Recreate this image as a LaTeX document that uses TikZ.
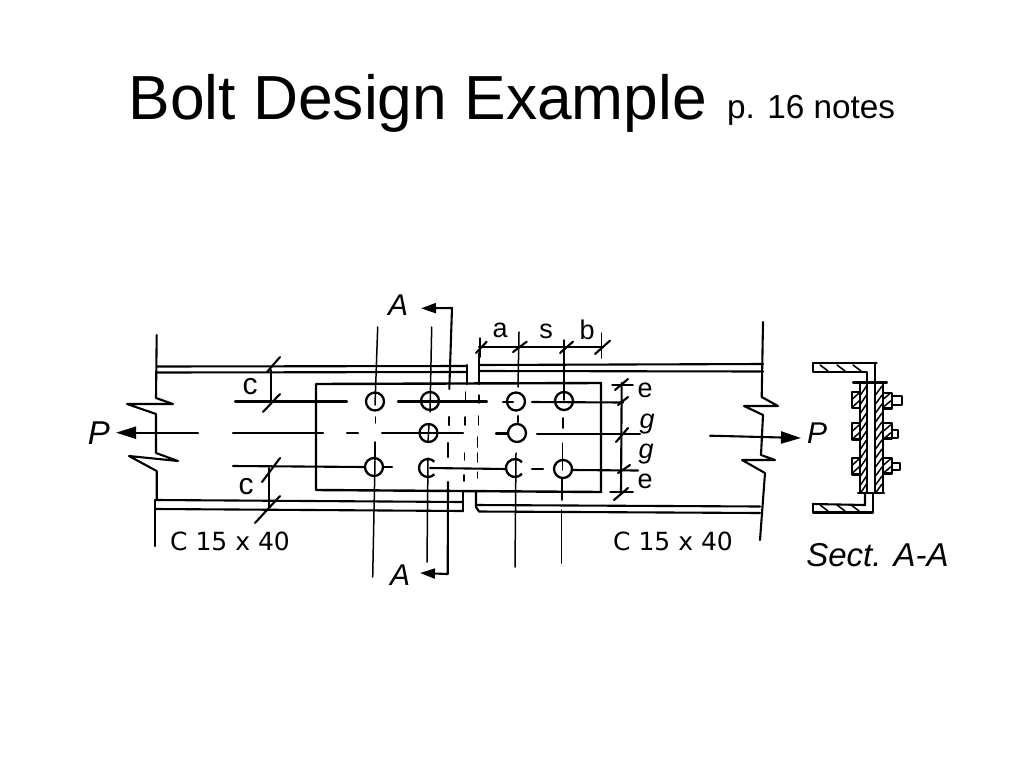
\documentclass[tikz,border=0pt]{standalone}
\usepackage{fontspec}
\setmainfont{Liberation Sans}
\newfontfamily\plainhand{DejaVu Sans}
\usetikzlibrary{arrows.meta}
\tikzset{
  ink/.style={line width=2.1pt,black,line cap=round,line join=round},
  thin ink/.style={line width=1.5pt,black,line cap=round,line join=round},
  bolt/.style={line width=2.3pt,black},
  hand/.style={font=\fontsize{30}{30}\selectfont\itshape,inner sep=0pt},
  small hand/.style={font=\fontsize{27}{27}\selectfont,inner sep=0pt},
  spec/.style={font=\plainhand\fontsize{25}{25}\selectfont,inner sep=0pt},
  load/.style={ink,-{Triangle[length=20pt,width=12pt]}},
  cut/.style={ink,-{Triangle[length=15pt,width=10pt]}}
}
\begin{document}
\begin{tikzpicture}[x=1pt,y=-1pt]
\useasboundingbox (0,0) rectangle (1024,768);
% title
\node[anchor=base west,inner sep=0pt,font=\fontsize{62.3}{62.3}\selectfont] (title) at (128.5,119) {Bolt Design Example};
\node[anchor=base west,inner sep=0pt,font=\fontsize{33.3}{33.3}\selectfont] (ref) at (727,118) {p. 16 notes};
% channels: left member
\draw[ink] (156.7,335) -- (156,398) -- (173,404) -- (127,404) -- (156,414) -- (156,453) -- (178,461) -- (129,456) -- (156.7,471) -- (156.7,500);
\draw[ink] (155,500) -- (155,546);
\draw[ink] (157,366.5) -- (467,366);
\draw[ink] (157,372.5) -- (467,372);
\draw[ink] (467,365) -- (467,384);
\draw[ink] (156,500) -- (463,502);
\draw[ink] (156,509) -- (463,511);
\draw[ink] (463,492) -- (463,511);
% channels: right member
\draw[ink] (763,322) -- (761.7,397) -- (778,406) -- (744,406) -- (763,415) -- (761,455) -- (775,460) -- (742,460) -- (765,473) -- (760,540);
\draw[ink] (480,365) -- (763,364);
\draw[ink] (480,371) -- (763,371.5);
\draw[ink] (479,365) -- (479,384);
\draw[ink] (476,492) -- (476,507) -- (479,511.5) -- (760,513);
\draw[ink] (476,505) -- (760,506.5);
% splice plate
\draw[ink,line width=2.4pt] (316,384) -- (601,383) -- (601,492) -- (316,490) -- cycle;
% dimension extension lines, rows
\draw[ink] (235,401.5) -- (347,401.5);
\draw[ink] (398,401.5) -- (487,401.5);
\draw[ink] (503,402) -- (513,402);
\draw[ink] (532,402) -- (623,402.5);
\draw[ink] (233,433) -- (323,433);
\draw[ink] (347,433) -- (358,433);
\draw[ink] (382,433) -- (463,433);
\draw[ink] (496,433.5) -- (507,433.5);
\draw[ink] (537,434) -- (640,434);
\draw[ink] (233,466) -- (365,467);
\draw[ink] (383,467) -- (392,467);
\draw[ink] (430,468) -- (506,469);
\draw[ink] (532,469) -- (543,469);
\draw[ink] (572,470) -- (638,470.5);
% vertical centre lines
\draw[thin ink] (377.7,327) -- (375,405);
\draw[thin ink] (375.7,417) -- (375.7,423);
\draw[thin ink] (375,442) -- (375,460);
\draw[thin ink] (375,461) -- (372.7,577);
\draw[thin ink] (431.7,327) -- (430,412);
\draw[thin ink] (429,424) -- (428,442);
\draw[thin ink] (428,458) -- (427,562);
\draw[thin ink] (519,332) -- (518,387);
\draw[ink] (518,416) -- (518,422);
\draw[thin ink] (516,453) -- (515,567);
\draw[thin ink] (564,340) -- (564,400);
\draw[thin ink] (563,418) -- (563,428);
\draw[thin ink] (562.7,443) -- (562.7,470);
\draw[thin ink] (562,478) -- (562,500);
\draw[thin ink] (561.7,510) -- (561.7,563);
% bolts
\coordinate (b11) at (375,401.5);
\coordinate (b12) at (430,401);
\coordinate (b13) at (516,401.5);
\coordinate (b14) at (564,401);
\coordinate (b22) at (428.5,433);
\coordinate (b23) at (517,433);
\coordinate (b31) at (374,467);
\coordinate (b32) at (428,468);
\coordinate (b33) at (515,468);
\coordinate (b34) at (563,469);
\foreach \b in {b11,b12,b13,b14,b22,b23,b31,b34}{\draw[bolt] (\b) circle (9);}
\draw[bolt] (b32) ++(45:9) arc (45:315:9);
\draw[bolt] (b33) ++(40:9) arc (40:320:9);
% section cut line
\coordinate (cutT) at (452,308);
\coordinate (cutB) at (447.7,574);
\draw[cut] (449.3,389) -- (cutT) -- (421,308.3);
\draw[ink] (449,417) -- (449,425);
\draw[ink] (448,443) -- (448,457);
\draw[cut] (448,482) -- (cutB) -- (420,573);
% hidden channel ends
\draw[thin ink] (465.7,392) -- (465.7,400);
\draw[thin ink] (465,417) -- (465,425);
\draw[thin ink] (464.5,453) -- (464.5,460);
\draw[thin ink] (464,475) -- (464,481);
\draw[thin ink] (479,353) -- (479,383);
\draw[thin ink] (479,395) -- (479,403);
\draw[thin ink] (478.5,416) -- (478.5,425);
\draw[thin ink] (477.7,437) -- (477.7,447);
\draw[thin ink] (477.7,453) -- (477.7,462);
\draw[thin ink] (477.3,472) -- (477.3,478);
% dimension a s b
\draw[ink] (479,347) -- (603,347);
\draw[thin ink] (480,338) -- (480,357);
\draw[thin ink] (601.7,333) -- (601.7,358);
\draw[ink] (486.7,341.7) -- (476,353);
\draw[ink] (526.7,341.7) -- (513,352);
\draw[ink] (573,341.7) -- (560,353);
\draw[ink] (610,340.7) -- (595,354);
% dimension e g g e
\draw[ink] (621.7,383) -- (621,493);
\draw[thin ink] (612,385) -- (633,385);
\draw[thin ink] (610,492) -- (633,492);
\draw[ink] (628,379) -- (615,390);
\draw[ink] (628,397) -- (618,405);
\draw[ink] (628,428) -- (616,442);
\draw[ink] (630,465) -- (618,473);
\draw[ink] (628,488) -- (614,500);
% dimension c
\draw[ink] (270.7,370) -- (270.7,402);
\draw[ink] (280,357) -- (267,372);
\draw[ink] (280,394) -- (263,412);
\draw[ink] (269,468) -- (269,507);
\draw[ink] (280,458) -- (262,482);
\draw[ink] (280,496) -- (255,523);
% loads
\coordinate (pL) at (116,432.7);
\coordinate (pR) at (801,438);
\draw[load] (198,432.7) -- (pL);
\draw[load] (710,435.7) -- (pR);
% section A-A
\draw[ink] (813,363) -- (876.7,363);
\draw[ink] (813,363) -- (813,372) -- (867,372) -- (867,381);
\draw[ink] (875,363) -- (875,382);
\draw[ink] (812.7,504) -- (865,505) -- (865,493);
\draw[ink] (812.7,504) -- (812.7,512.5) -- (873,512.5) -- (873,493);
\draw[ink] (860,382) rectangle (867,492.7);
\draw[ink] (875,382) rectangle (882.7,492.7);
\draw[ink] (853,382.5) -- (887,382.5);
\draw[ink] (858,492.7) -- (884,492.7);
\foreach \y in {391.7,423,458}{\draw[ink] (851.7,\y) rectangle (860,\y+16.5);}
\foreach \y in {393,423,458}{\draw[ink] (882.7,\y) rectangle (891.7,\y+15.5);}
\draw[ink] (891.7,396) -- (901.7,396) -- (901.7,405) -- (891.7,405);
\draw[ink] (891.7,430) -- (898,430) -- (898,438) -- (891.7,438);
\draw[ink] (891.7,463) -- (900,463) -- (900,470) -- (891.7,470);
\foreach \y in {390,399,408,417,426,435,444,453,462,471,480,488}{
  \draw[thin ink] (860.5,\y+5) -- (866.5,\y-4);
  \draw[thin ink] (875.5,\y+5) -- (882,\y-4);
}
\foreach \x in {825,842,858}{\draw[thin ink] (\x-5,365) -- (\x+3,371);}
\foreach \x in {825,842,856}{\draw[thin ink] (\x-5,505) -- (\x+3,511);}
\foreach \y in {396,404,428,436,462,470}{
  \draw[thin ink] (852.5,\y+3) -- (859,\y-3);
  \draw[thin ink] (883.5,\y+3) -- (890.5,\y-3);
}
% labels
\node[hand] (lA1) at (398,305) {A};
\node[hand] (lA2) at (400,575) {A};
\node[hand,font=\fontsize{33}{33}\selectfont\itshape] (lP1) at (99,433) {P};
\node[hand] (lP2) at (817,433) {P};
\node[small hand,font=\fontsize{30}{30}\selectfont] (lc1) at (250,387) {c};
\node[small hand,font=\fontsize{30}{30}\selectfont] (lc2) at (246,487) {c};
\node[small hand] (la) at (500,330) {a};
\node[small hand] (ls) at (546,331) {s};
\node[small hand] (lb) at (587,330) {b};
\node[small hand] (le1) at (645,390) {e};
\node[small hand,font=\fontsize{27}{27}\selectfont\itshape] (lg1) at (647,424) {g};
\node[small hand,font=\fontsize{27}{27}\selectfont\itshape] (lg2) at (646,454) {g};
\node[small hand] (le2) at (645,481) {e};
\node[spec] (sp1) at (230,541.7) {C 15 x 40};
\node[spec] (sp2) at (673,541) {C 15 x 40};
\node[hand,font=\fontsize{33}{33}\selectfont\itshape] (sec) at (877.5,555) {Sect. A-A};
\end{tikzpicture}
\end{document}
